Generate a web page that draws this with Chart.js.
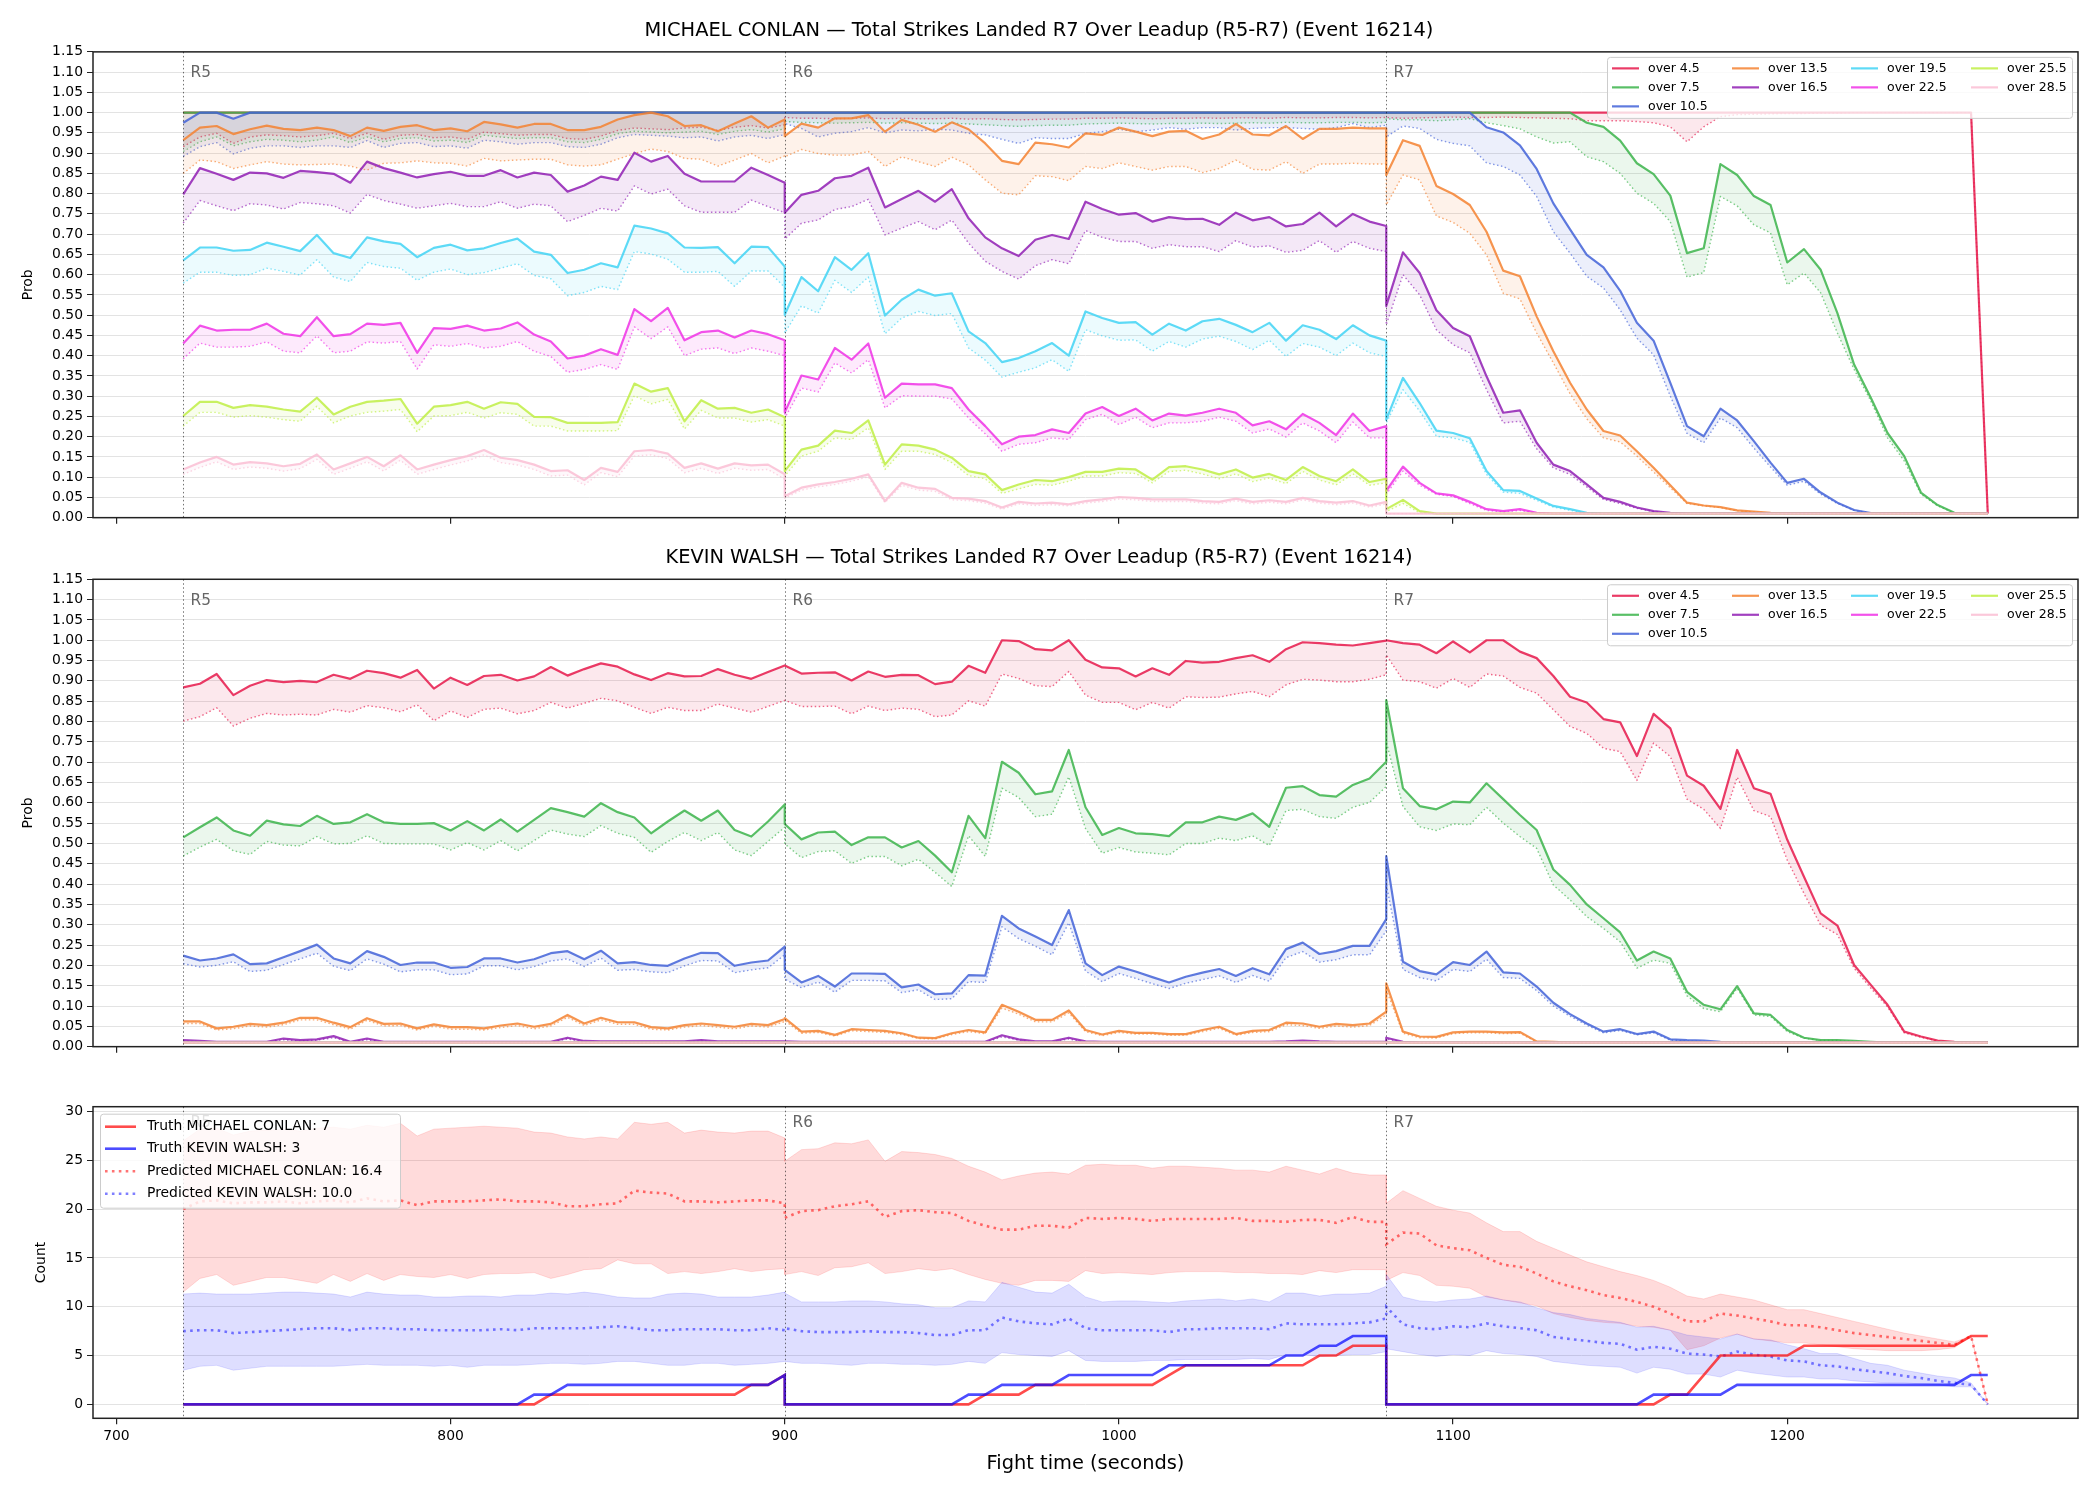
<!DOCTYPE html>
<html>
<head>
<meta charset="utf-8">
<script src="https://cdn.jsdelivr.net/npm/chart.js@4.4.1/dist/chart.umd.min.js"></script>
<style>
  html, body { margin: 0; padding: 0; background: #fff; }
  #wrap { position: relative; width: 2100px; height: 1500px; }
  #wrap canvas { position: absolute; left: 0; }
</style>
</head>
<body>
<div id="wrap">
  <canvas id="conlanChart" width="2100" height="530" style="top:0px;width:2100px;height:530px"></canvas>
  <canvas id="walshChart" width="2100" height="529" style="top:530px;width:2100px;height:529px"></canvas>
  <canvas id="countChart" width="2100" height="420" style="top:1080px;width:2100px;height:420px"></canvas>
</div>
<script>
// fight time: one sample every 5 s, 37 samples per round (R5, R6, R7)
const roundStarts = [720, 900, 1080];
const roundLabels = ['R5', 'R6', 'R7'];
const secondsPerStep = 5;
const stepsPerRound = 37;
const xTicks = [700, 800, 900, 1000, 1100, 1200];
const countTicks = [0, 5, 10, 15, 20, 25, 30];

const thresholds = ['over 4.5', 'over 7.5', 'over 10.5', 'over 13.5', 'over 16.5', 'over 19.5', 'over 22.5', 'over 25.5', 'over 28.5'];
const thresholdColors = ['#e6194b', '#3cb44b', '#4363d8', '#f58231', '#911eb4', '#42d4f4', '#f032e6', '#bfef45', '#fabed4'];

// ---- MICHAEL CONLAN probabilities (percent), solid = current, Lo = dotted lower line
const conlanO45 = [
  100,100,100,100,100,100,100,100,100,100, 100,100,100,100,100,100,100,100,100,100, 100,100,100,100,100,100,100,100,100,100, 100,100,100,100,100,100,100,
  100,100,100,100,100,100,100,100,100,100, 100,100,100,100,100,100,100,100,100,100, 100,100,100,100,100,100,100,100,100,100, 100,100,100,100,100,100,100,
  100,100,100,100,100,100,100,100,100,100, 100,100,100,100,100,100,100,100,100,100, 100,100,100,100,100,100,100,100,100,100, 100,100,100,100,100,100,1
];
const conlanO45Lo = [
  91.6,94.0,94.9,92.4,94.0,94.5,94.3,94.0,94.3,94.9, 93.6,94.9,93.4,94.4,94.6,93.8,94.0,93.4,95.2,94.8, 94.4,94.6,94.6,93.6,93.4,94.2,95.6,96.2,96.0,95.8, 96.2,96.4,95.6,96.4,96.8,96.2,97.0,
  98.8,98.6,98.6,98.5,98.6,98.7,98.5,98.6,98.5,98.5, 98.6,98.4,98.5,98.3,98.2,98.3,98.4,98.4,98.6,98.6, 98.7,98.6,98.5,98.6,98.6,98.7,98.6,98.7,98.7,98.6, 98.8,98.7,98.7,98.8,98.8,98.7,98.8,
  98.8,98.6,98.7,98.8,98.9,98.8,98.8,98.9,98.8,98.7, 98.6,98.5,98.0,98.0,98.0,97.8,97.5,96.5,92.8,96.5, 99.0,99.5,99.6,99.7,99.8,99.8,99.9,99.9,100,100, 100,100,100,100,100,100,1
];
const conlanO75 = [
  100,100,100,100,100,100,100,100,100,100, 100,100,100,100,100,100,100,100,100,100, 100,100,100,100,100,100,100,100,100,100, 100,100,100,100,100,100,100,
  100,100,100,100,100,100,100,100,100,100, 100,100,100,100,100,100,100,100,100,100, 100,100,100,100,100,100,100,100,100,100, 100,100,100,100,100,100,100,
  100,100,100,100,100,100,100,100,100,100, 100,100,97.5,96.5,93.1,87.5,84.8,79.5,65.3,66.5, 87.3,84.6,79.4,77.2,63.0,66.3,61.2,50.5,37.8,29.6, 20.9,15.2,6.2,3.1,1.2,1,1
];
const conlanO75Lo = [
  90.4,92.8,94.0,91.8,92.8,93.4,93.2,92.8,93.2,94.0, 92.6,94.0,92.8,93.6,93.8,93.0,93.2,92.6,94.4,94.0, 93.6,93.8,93.8,92.8,92.6,93.4,94.8,95.4,95.2,95.0, 95.2,95.4,94.6,95.4,95.8,95.2,96.0,
  97.8,97.6,97.5,97.4,97.5,97.6,97.4,97.5,97.4,97.3, 97.4,97.2,97.0,96.8,96.6,96.8,96.9,96.9,97.2,97.3, 97.4,97.3,97.2,97.3,97.3,97.4,97.3,97.4,97.5,97.4, 97.6,97.5,97.5,97.6,97.6,97.5,97.6,
  98.5,98.2,98.2,98.0,98.2,98.5,97.5,96.8,96.0,94.0, 92.5,92.8,89.1,87.9,85.0,80.1,77.6,73.1,59.4,60.5, 79.3,77.0,72.3,70.3,57.5,60.4,55.5,45.6,36.6,28.8, 19.7,14.0,5.8,2.9,1.2,1,1
];
const conlanO105 = [
  97.5,100,100,98.5,100,100,100,100,100,100, 100,100,100,100,100,100,100,100,100,100, 100,100,100,100,100,100,100,100,100,100, 100,100,100,100,100,100,100,
  100,100,100,100,100,100,100,100,100,100, 100,100,100,100,100,100,100,100,100,100, 100,100,100,100,100,100,100,100,100,100, 100,100,100,100,100,100,100,
  100,100,100,100,100,100,96.4,95.1,91.9,86.1, 77.6,71.2,64.9,61.8,56.0,48.1,43.7,33.3,22.6,20.1, 26.9,24.0,18.9,13.6,8.6,9.6,6.2,3.7,1.9,1.1, 1,1,1,1,1,1,1
];
const conlanO105Lo = [
  89.2,91.6,92.6,89.8,91.2,91.8,91.8,91.4,91.8,91.8, 91.4,93.1,91.4,92.4,92.6,91.6,91.8,91.2,93.2,92.8, 92.2,92.6,92.6,91.6,91.4,92.2,93.8,94.6,94.4,94.2, 93.8,94.0,93.0,94.0,94.4,93.6,94.6,
  97.3,96.1,94.0,94.9,95.3,96.3,95.0,95.7,95.5,95.9, 95.7,94.9,94.5,93.4,92.4,93.8,93.6,93.6,94.9,95.3, 95.9,95.3,95.7,96.3,95.9,96.3,96.3,95.7,96.1,96.3, 96.3,96.1,95.9,96.3,97.3,96.3,96.9,
  94.0,96.7,96.1,93.4,92.4,91.8,87.6,86.7,84.6,79.3, 70.6,65.3,59.6,56.7,51.3,44.3,40.2,30.0,20.8,18.5, 24.6,22.2,17.2,12.5,8.0,9.0,5.8,3.5,1.8,1.1, 1,1,1,1,1,1,1
];
const conlanO135 = [
  93.2,96.3,96.7,94.7,95.9,96.8,96.0,95.7,96.3,95.7, 94.2,96.3,95.5,96.5,96.9,95.7,96.1,95.4,97.7,97.1, 96.3,97.2,97.2,95.7,95.7,96.5,98.3,99.4,100,99.1, 96.7,96.9,95.4,97.3,99.1,96.3,98.3,
  94.2,97.3,96.3,98.6,98.6,99.4,95.3,98.2,97.0,95.3, 97.6,95.9,92.4,88.1,87.3,92.6,92.2,91.4,94.9,94.5, 96.3,95.3,94.2,95.3,95.5,93.5,94.6,97.2,94.6,94.4, 96.7,93.5,96.0,96.0,96.3,96.1,96.1,
  84.6,93.2,91.8,81.9,79.9,77.2,70.6,61.0,59.6,49.7, 41.1,33.3,26.7,21.4,20.3,16.4,12.3,8.0,3.7,3.0, 2.6,1.8,1.5,1.2,1,1,1,1,1,1, 1,1,1,1,1,1,1
];
const conlanO135Lo = [
  85.0,88.3,87.9,86.2,87.1,87.9,87.3,87.1,87.2,87.3, 86.8,85.8,87.5,87.6,88.1,87.6,87.5,86.8,88.7,88.1, 88.3,88.5,88.5,87.1,86.8,87.1,88.5,89.9,91.0,90.4, 88.7,88.5,86.8,88.3,89.9,87.6,89.3,
  89.1,90.9,89.9,89.5,89.5,90.4,86.7,89.1,87.9,86.7, 89.0,87.1,83.4,80.1,79.7,84.4,84.2,83.2,86.7,86.2, 87.6,86.7,85.8,86.7,86.7,85.2,86.2,88.3,86.0,85.8, 87.9,85.0,87.3,87.3,87.5,87.3,87.3,
  77.2,84.6,83.4,74.5,72.9,70.2,64.9,55.4,54.0,45.6, 38.2,30.6,24.4,19.7,18.7,15.2,11.3,7.4,3.5,2.9, 2.5,1.7,1.4,1.1,1,1,1,1,1,1, 1,1,1,1,1,1,1
];
const conlanO165 = [
  79.8,86.3,84.9,83.4,85.2,85.0,83.9,85.6,85.3,84.9, 82.7,87.9,86.3,85.2,84.0,84.8,85.4,84.4,84.4,85.8, 84.0,85.2,84.6,80.5,82.0,84.2,83.4,90.1,87.9,89.3, 84.9,83.0,83.0,83.0,86.4,84.6,82.7,
  75.3,79.7,80.7,83.8,84.4,86.4,76.6,78.7,80.7,78.0, 81.1,73.9,69.2,66.5,64.6,68.6,69.8,68.8,78.0,76.2, 74.8,75.2,73.1,74.2,73.7,73.8,72.3,75.3,73.4,74.2, 71.9,72.5,75.3,71.9,75.0,73.1,72.0,
  52.3,65.5,60.4,51.2,46.8,44.8,34.9,25.9,26.5,18.5, 13.1,11.5,8.2,4.9,3.9,2.5,1.6,1.2,1,1, 1,1,1,1,1,1,1,1,1,1, 1,1,1,1,1,1,1
];
const conlanO165Lo = [
  72.7,78.3,77.0,75.8,77.5,77.2,76.2,77.8,77.5,77.0, 75.2,79.8,78.3,77.4,76.4,77.0,77.6,76.8,76.8,78.0, 76.4,77.4,77.0,73.1,74.6,76.4,75.7,81.9,79.9,81.1, 77.0,75.4,75.4,75.4,78.4,76.8,75.3,
  68.8,72.7,73.5,76.1,76.8,78.6,69.8,71.5,73.1,71.1, 73.5,67.8,63.3,60.8,58.9,62.2,63.7,62.7,70.9,69.2, 68.2,68.2,66.5,67.4,66.9,66.9,65.7,68.4,66.8,67.1, 65.5,66.0,68.4,65.5,68.2,66.5,65.7,
  47.6,60.0,55.0,46.4,42.7,40.7,31.6,23.4,23.8,17.0, 12.3,10.7,7.6,4.5,3.5,2.3,1.5,1.1,1,1, 1,1,1,1,1,1,1,1,1,1, 1,1,1,1,1,1,1
];
const conlanO195 = [
  63.5,66.7,66.7,65.9,66.1,67.9,66.9,65.8,69.8,65.3, 64.1,69.2,68.2,67.6,64.3,66.6,67.4,66.0,66.5,67.8, 68.9,65.7,64.9,60.4,61.2,62.8,61.8,72.1,71.4,70.2, 66.7,66.6,66.8,62.8,66.9,66.8,62.0,
  50.1,59.4,55.9,64.3,61.2,65.3,49.9,53.8,56.3,54.8, 55.4,46.0,43.1,38.4,39.4,41.1,43.1,40.0,50.9,49.3, 48.1,48.3,45.2,47.9,46.2,48.5,49.1,47.6,45.8,48.1, 43.7,47.5,46.4,44.1,47.5,45.0,43.7,
  24.2,34.5,28.3,21.5,20.9,19.6,11.5,6.8,6.6,4.7, 2.9,2.1,1.2,1,1,1,1,1,1,1, 1,1,1,1,1,1,1,1,1,1, 1,1,1,1,1,1,1
];
const conlanO195Lo = [
  57.9,60.6,60.6,59.8,60.0,61.6,60.8,59.9,63.7,59.4, 58.3,63.0,62.0,61.6,58.6,60.6,61.4,60.0,60.5,61.6, 62.7,59.8,59.0,54.8,55.6,57.1,56.3,65.7,65.1,63.8, 60.6,60.6,60.8,57.1,60.9,60.9,56.9,
  45.6,52.3,50.5,58.6,55.6,59.4,45.4,49.3,50.9,49.9, 50.4,41.9,38.9,34.7,35.9,37.0,39.0,36.1,46.4,44.9, 43.8,43.9,41.1,43.5,42.1,44.1,44.8,43.5,41.5,43.8, 39.8,43.0,42.1,40.0,43.1,40.7,39.8,
  23.4,31.6,26.3,20.1,19.7,18.6,10.7,6.3,6.0,4.3, 2.6,1.8,1.1,1,1,1,1,1,1,1, 1,1,1,1,1,1,1,1,1,1, 1,1,1,1,1,1,1
];
const conlanO225 = [
  43.0,47.4,46.2,46.4,46.4,47.9,45.4,44.8,49.5,44.8, 45.3,47.9,47.6,48.1,40.7,46.8,46.6,47.4,46.2,46.7, 48.2,45.2,43.5,39.3,40.0,41.6,40.2,51.5,48.5,51.8, 43.8,45.8,46.2,44.5,46.2,45.3,43.8,
  26.0,35.1,34.1,41.9,39.0,43.0,29.6,33.1,32.9,32.9, 32.0,26.7,22.6,18.1,20.0,20.4,21.8,20.9,25.7,27.3, 25.1,26.9,24.0,25.7,25.2,25.9,26.9,25.9,22.8,23.8, 21.8,25.6,23.4,20.4,25.7,21.4,22.6,
  6.6,12.6,8.6,6.0,5.5,3.9,2.1,1.6,2.1,1.2, 1,1,1,1,1,1,1,1,1,1, 1,1,1,1,1,1,1,1,1,1, 1,1,1,1,1,1,1
];
const conlanO225Lo = [
  39.2,43.1,42.1,42.1,42.3,43.4,41.1,40.7,44.9,40.7, 41.1,43.4,43.1,43.5,36.7,42.7,42.3,43.0,41.9,42.3, 43.5,41.1,39.8,35.9,36.6,37.8,36.6,47.1,44.2,47.1, 40.0,41.6,41.9,40.5,41.9,41.1,40.0,
  24.6,32.0,31.0,38.2,35.7,39.0,27.1,30.1,30.0,30.0, 29.3,24.6,20.7,16.4,18.1,18.5,19.7,19.3,24.2,25.5, 23.0,24.8,22.2,23.4,23.4,23.8,24.8,23.8,20.9,21.9, 19.9,23.4,21.4,18.5,23.6,19.7,19.7,
  5.8,11.5,8.0,5.8,5.2,3.5,1.8,1.4,1.8,1.1, 1,1,1,1,1,1,1,1,1,1, 1,1,1,1,1,1,1,1,1,1, 1,1,1,1,1,1,1
];
const conlanO255 = [
  25.1,28.6,28.6,27.1,27.8,27.4,26.7,26.2,29.6,25.5, 27.4,28.6,28.9,29.3,23.2,27.4,27.8,28.6,26.9,28.5, 28.1,24.9,24.8,23.4,23.4,23.4,23.6,33.1,31.1,32.0, 23.8,29.0,26.9,27.1,25.9,26.7,24.8,
  11.5,16.8,17.8,21.5,20.9,24.0,13.1,18.1,17.8,16.8, 14.8,11.5,10.7,6.8,8.2,9.3,9.0,10.0,11.3,11.3, 12.1,11.9,9.4,12.5,12.7,11.9,10.7,11.9,9.9,10.8, 9.3,12.5,10.3,9.0,11.9,8.8,9.6,
  2.1,4.4,1.6,1,1,1,1,1,1,1, 1,1,1,1,1,1,1,1,1,1, 1,1,1,1,1,1,1,1,1,1, 1,1,1,1,1,1,1
];
const conlanO255Lo = [
  22.6,26.0,26.0,24.8,25.2,24.8,24.2,23.8,27.5,23.4, 25.1,26.0,26.3,26.7,21.2,25.1,25.2,26.0,24.6,25.9, 25.5,22.6,22.6,21.4,21.4,21.4,21.5,30.1,28.1,29.2, 21.9,26.5,24.6,24.6,23.6,24.2,22.6,
  10.3,15.2,16.4,19.7,19.3,22.2,11.9,16.4,16.4,15.6, 13.6,10.4,9.6,6.0,7.1,8.2,8.0,9.0,10.3,10.3, 11.1,10.9,8.6,11.4,11.7,10.8,9.6,10.8,8.9,9.8, 8.4,11.4,9.3,8.1,10.8,8.0,8.6,
  1.5,3.5,1.2,1,1,1,1,1,1,1, 1,1,1,1,1,1,1,1,1,1, 1,1,1,1,1,1,1,1,1,1, 1,1,1,1,1,1,1
];
const conlanO285 = [
  11.9,13.6,15.0,13.1,13.7,13.4,12.7,13.3,15.6,11.9, 13.4,15.0,12.7,15.4,11.9,13.1,14.2,15.2,16.7,14.8, 14.2,13.1,11.5,11.7,9.3,12.3,11.3,16.4,16.7,15.8, 12.3,13.4,12.1,13.4,12.9,13.1,10.7,
  5.3,7.4,8.2,8.8,9.6,10.7,4.1,8.6,7.4,7.1, 4.9,4.7,4.1,2.5,3.9,3.5,3.7,3.3,4.1,4.5, 5.1,4.9,4.5,4.5,4.5,4.1,3.9,4.7,3.9,4.3, 3.9,4.9,4.1,3.7,4.1,3.0,3.9,
  1,1,1,1,1,1,1,1,1,1, 1,1,1,1,1,1,1,1,1,1, 1,1,1,1,1,1,1,1,1,1, 1,1,1,1,1,1,1
];
const conlanO285Lo = [
  10.7,12.4,13.8,11.9,12.5,12.2,11.5,12.1,14.4,10.7, 12.2,13.8,11.5,14.2,10.7,11.9,13.0,14.0,15.5,13.6, 13.0,11.9,10.3,10.5,8.1,11.1,10.1,15.2,15.5,14.6, 11.1,12.2,10.9,12.2,11.7,11.9,9.5,
  4.8,6.8,7.6,8.2,9.0,10.1,3.7,8.0,6.8,6.5, 4.4,4.2,3.6,2.1,3.4,3.0,3.2,2.9,3.6,4.0, 4.6,4.4,4.0,4.0,4.0,3.6,3.4,4.2,3.4,3.8, 3.4,4.4,3.6,3.2,3.6,2.6,3.4,
  1,1,1,1,1,1,1,1,1,1, 1,1,1,1,1,1,1,1,1,1, 1,1,1,1,1,1,1,1,1,1, 1,1,1,1,1,1,1
];

// ---- KEVIN WALSH probabilities (percent)
const walshO45 = [
  88.4,89.3,91.7,86.5,88.8,90.2,89.7,90.0,89.7,91.5, 90.5,92.5,91.9,90.8,92.7,88.1,90.8,89.0,91.2,91.5, 90.1,91.1,93.4,91.3,92.9,94.3,93.5,91.6,90.2,91.9, 91.1,91.2,92.9,91.5,90.5,92.2,93.8,
  93.8,91.8,92.0,92.1,90.1,92.3,91.0,91.5,91.4,89.2, 89.8,93.7,92.0,100,99.8,97.8,97.5,100,95.2,93.3, 93.1,91.1,93.1,91.5,94.9,94.5,94.7,95.6,96.3,94.7, 97.8,99.5,99.3,98.9,98.7,99.3,99.9,
  100,99.3,98.9,96.8,99.7,97.0,100,100,97.2,95.6, 91.2,86.1,84.7,80.6,79.8,71.5,81.9,78.3,66.7,64.2, 58.5,73.0,63.6,62.2,50.9,41.8,32.8,29.8,20.1,15.2, 10.3,3.7,2.5,1.5,1.2,1,1
];
const walshO45Lo = [
  80.1,81.2,83.4,78.9,80.8,82.0,81.6,81.8,81.6,83.0, 82.3,83.9,83.4,82.4,84.1,80.2,82.6,81.0,83.0,83.3, 81.9,82.7,84.7,83.3,84.5,85.7,85.1,83.5,82.0,83.5, 82.7,82.7,84.3,83.3,82.3,83.7,85.2,
  85.2,83.7,83.7,83.8,81.9,83.8,82.7,83.3,83.0,81.2, 81.6,85.1,83.8,91.7,90.6,88.8,88.6,92.3,86.5,84.7, 84.7,82.9,84.7,83.3,86.1,85.9,86.0,86.8,87.4,86.1, 89.0,90.4,90.2,89.8,89.8,90.4,91.5,
  96.4,90.2,89.8,88.2,90.6,88.4,91.7,91.2,88.4,87.0, 82.9,78.8,77.1,73.4,72.6,65.5,74.7,71.4,60.9,58.4, 53.7,66.3,58.1,56.6,45.9,37.7,29.9,27.6,19.3,14.4, 9.8,3.4,2.3,1.4,1.1,1,1
];
const walshO75 = [
  51.5,54.0,56.4,53.2,51.9,55.6,54.7,54.3,56.8,54.8, 55.2,57.2,55.2,54.8,54.8,55.0,53.2,55.5,53.2,55.9, 52.9,55.8,58.7,57.7,56.6,59.9,57.7,56.4,52.5,55.4, 58.1,55.6,58.1,53.3,51.7,55.4,59.6,
  54.8,51.0,52.7,52.9,49.6,51.5,51.5,49.0,50.6,47.0, 42.9,56.8,51.3,70.1,67.4,62.1,62.8,73.0,58.9,52.1, 53.8,52.5,52.3,51.8,55.2,55.2,56.6,55.8,57.4,54.1, 63.7,64.1,61.9,61.5,64.4,66.0,70.1,
  85.3,63.6,59.2,58.4,60.3,60.1,64.8,60.9,57.0,53.3, 43.6,39.8,35.0,31.6,28.1,21.2,23.4,21.7,13.5,10.3, 9.2,14.9,8.2,7.8,4.1,2.2,1.6,1.6,1.4,1.2, 1,1,1,1,1,1,1
];
const walshO75Lo = [
  46.9,49.1,51.0,48.2,47.3,50.5,49.6,49.4,51.7,49.9, 50.0,51.9,50.0,49.9,49.9,49.9,48.4,50.2,48.4,50.7, 48.2,50.7,53.3,52.3,51.7,54.4,52.5,51.5,47.8,50.5, 52.7,50.7,52.7,48.4,47.0,50.5,54.0,
  49.9,46.5,48.0,48.2,45.1,46.8,46.8,44.5,46.1,42.9, 39.4,51.9,46.8,63.6,61.3,56.6,57.2,66.4,53.7,47.6, 49.0,47.9,47.6,47.2,50.0,50.0,51.3,50.7,51.9,49.5, 58.1,58.4,56.6,56.2,58.9,60.1,64.0,
  75.0,59.1,54.1,53.2,54.8,54.6,58.9,55.0,51.7,48.8, 39.8,36.1,32.0,29.1,25.8,19.3,21.3,20.5,12.5,9.4, 8.6,14.4,7.8,7.4,3.7,2.1,1.5,1.5,1.3,1.1, 1,1,1,1,1,1,1
];
const walshO105 = [
  22.4,21.2,21.7,22.7,20.3,20.5,22.0,23.5,25.1,21.7, 20.5,23.5,22.1,20.1,20.7,20.7,19.4,19.6,21.7,21.7, 20.7,21.5,23.0,23.5,21.5,23.6,20.5,20.8,20.1,19.9, 21.7,23.1,23.0,19.9,20.7,21.2,24.6,
  18.9,15.8,17.4,14.8,18.0,18.0,17.9,14.6,15.3,12.9, 13.1,17.6,17.5,32.2,29.1,27.1,25.0,33.6,20.5,17.6, 19.7,18.5,17.1,15.8,17.2,18.2,19.1,17.4,19.3,17.8, 24.0,25.6,22.8,23.5,24.8,24.8,31.4,
  46.9,20.9,18.6,17.8,20.8,20.1,23.4,18.3,18.0,14.8, 10.8,8.0,5.7,3.7,4.3,3.1,3.7,1.8,1.6,1.5, 1.2,1,1,1,1,1,1,1,1,1, 1,1,1,1,1,1,1
];
const walshO105Lo = [
  20.4,19.6,20.0,20.9,18.5,18.8,20.2,21.6,23.0,19.8, 18.7,21.6,20.3,18.4,18.9,18.9,17.7,17.9,19.9,19.9, 18.9,19.7,21.1,21.6,19.7,21.8,18.8,19.0,18.4,18.2, 19.9,21.2,21.1,18.2,18.9,19.4,22.6,
  16.6,14.5,15.9,13.4,16.3,16.3,16.2,13.3,14.0,11.6, 11.8,16.0,15.8,29.5,26.6,24.7,22.6,30.5,18.6,16.0, 18.0,16.8,15.5,14.3,15.6,16.5,17.4,15.8,17.5,16.1, 21.9,23.4,20.8,21.4,22.6,22.6,28.5,
  40.0,19.0,17.0,16.2,19.0,18.5,21.5,17.0,16.8,13.8, 10.0,7.5,5.3,3.4,4.0,2.9,3.4,1.6,1.4,1.3, 1.1,1,1,1,1,1,1,1,1,1, 1,1,1,1,1,1,1
];
const walshO135 = [
  6.2,6.2,4.5,4.9,5.6,5.3,5.9,7.1,7.1,5.9, 4.8,7.0,5.6,5.7,4.5,5.5,4.8,4.8,4.5,5.2, 5.7,4.9,5.6,7.8,5.7,7.1,6.0,6.0,4.8,4.5, 5.3,5.7,5.3,4.9,5.6,5.3,6.8,
  7.0,3.7,3.9,2.9,4.3,4.1,3.9,3.3,2.2,2.1, 3.3,4.1,3.5,10.3,8.6,6.6,6.6,8.9,4.1,3.0, 3.9,3.4,3.4,3.1,3.1,4.1,4.9,3.1,3.9,4.1, 5.9,5.7,4.9,5.6,5.3,5.7,8.6,
  15.6,3.7,2.5,2.4,3.5,3.7,3.7,3.5,3.6,1.3, 1.2,1,1,1,1,1,1,1,1,1, 1,1,1,1,1,1,1,1,1,1, 1,1,1,1,1,1,1
];
const walshO135Lo = [
  5.7,5.7,4.1,4.4,5.1,4.8,5.4,6.6,6.6,5.4, 4.3,6.5,5.1,5.2,4.1,5.0,4.3,4.3,4.1,4.7, 5.2,4.4,5.1,7.2,5.2,6.6,5.5,5.5,4.3,4.1, 4.8,5.2,4.8,4.4,5.1,4.8,6.2,
  6.4,3.3,3.5,2.6,3.9,3.7,3.5,3.0,2.0,1.9, 3.0,3.7,3.2,9.5,8.0,6.1,6.1,8.3,3.7,2.7, 3.5,3.1,3.1,2.8,2.8,3.7,4.5,2.8,3.5,3.7, 5.4,5.2,4.5,5.1,4.8,5.2,7.8,
  14.0,3.3,2.2,2.1,3.2,3.4,3.4,3.2,3.3,1.2, 1.1,1,1,1,1,1,1,1,1,1, 1,1,1,1,1,1,1,1,1,1, 1,1,1,1,1,1,1
];
const walshO165 = [
  1.6,1.4,1.2,1.2,1.2,1.2,2.0,1.6,1.8,2.6, 1.2,2.0,1.2,1.2,1.2,1.2,1.2,1.2,1.2,1.2, 1.2,1.2,1.2,2.2,1.4,1.3,1.3,1.3,1.3,1.3, 1.3,1.6,1.3,1.3,1.3,1.3,1.3,
  1.3,1.2,1.2,1.2,1.2,1.2,1.2,1.2,1.2,1.2, 1.2,1.2,1.2,2.8,1.8,1.3,1.3,2.2,1.3,1.2, 1.2,1.2,1.2,1.2,1.2,1.2,1.2,1.2,1.2,1.2, 1.3,1.5,1.3,1.2,1.2,1.2,1.2,
  2.2,1.2,1,1,1,1,1,1,1,1, 1,1,1,1,1,1,1,1,1,1, 1,1,1,1,1,1,1,1,1,1, 1,1,1,1,1,1,1
];
const walshO165Lo = [
  1.4,1.2,1.1,1.1,1.1,1.1,1.7,1.4,1.6,2.2, 1.1,1.7,1.1,1.1,1.1,1.1,1.1,1.1,1.1,1.1, 1.1,1.1,1.1,1.9,1.2,1.1,1.1,1.1,1.1,1.1, 1.1,1.4,1.1,1.1,1.1,1.1,1.1,
  1.1,1.1,1.1,1.1,1.1,1.1,1.1,1.1,1.1,1.1, 1.1,1.1,1.1,2.4,1.6,1.1,1.1,1.9,1.1,1.1, 1.1,1.1,1.1,1.1,1.1,1.1,1.1,1.1,1.1,1.1, 1.1,1.3,1.1,1.1,1.1,1.1,1.1,
  1.9,1.1,1,1,1,1,1,1,1,1, 1,1,1,1,1,1,1,1,1,1, 1,1,1,1,1,1,1,1,1,1, 1,1,1,1,1,1,1
];
// over 19.5 .. over 28.5 sit on the 0.01 floor for the whole leadup
const walshFloor = [
  1,1,1,1,1,1,1,1,1,1, 1,1,1,1,1,1,1,1,1,1, 1,1,1,1,1,1,1,1,1,1, 1,1,1,1,1,1,1,
  1,1,1,1,1,1,1,1,1,1, 1,1,1,1,1,1,1,1,1,1, 1,1,1,1,1,1,1,1,1,1, 1,1,1,1,1,1,1,
  1,1,1,1,1,1,1,1,1,1, 1,1,1,1,1,1,1,1,1,1, 1,1,1,1,1,1,1,1,1,1, 1,1,1,1,1,1,1
];

// ---- Counts panel
const conlanTruth = [
  0,0,0,0,0,0,0,0,0,0, 0,0,0,0,0,0,0,0,0,0, 0,0,1,1,1,1,1,1,1,1, 1,1,1,1,2,2,3,
  0,0,0,0,0,0,0,0,0,0, 0,0,1,1,1,2,2,2,2,2, 2,2,2,3,4,4,4,4,4,4, 4,4,5,5,6,6,6,
  0,0,0,0,0,0,0,0,0,0, 0,0,0,0,0,0,0,1,1,3, 5,5,5,5,5,6,6,6,6,6, 6,6,6,6,6,7,7
];
const walshTruth = [
  0,0,0,0,0,0,0,0,0,0, 0,0,0,0,0,0,0,0,0,0, 0,1,1,2,2,2,2,2,2,2, 2,2,2,2,2,2,3,
  0,0,0,0,0,0,0,0,0,0, 0,1,1,2,2,2,2,3,3,3, 3,3,3,4,4,4,4,4,4,4, 5,5,6,6,7,7,7,
  0,0,0,0,0,0,0,0,0,0, 0,0,0,0,0,0,1,1,1,1, 1,2,2,2,2,2,2,2,2,2, 2,2,2,2,2,3,3
];
const conlanPred = [
  20.0,20.8,20.9,20.6,20.7,20.7,20.8,20.6,20.8,20.9, 20.7,21.1,20.8,20.9,20.4,20.8,20.8,20.8,20.9,21.0, 20.8,20.8,20.7,20.3,20.3,20.5,20.6,21.9,21.7,21.6, 20.8,20.8,20.7,20.8,20.9,20.9,20.6,
  19.1,19.8,19.9,20.3,20.5,20.8,19.2,19.8,19.9,19.7, 19.6,18.8,18.3,17.9,17.9,18.3,18.3,18.1,19.1,19.0, 19.1,19.0,18.8,19.0,19.0,19.0,19.0,19.1,18.8,18.8, 18.7,18.9,18.9,18.6,19.2,18.7,18.7,
  16.4,17.6,17.5,16.3,16.0,15.8,15.0,14.3,14.1,13.4, 12.6,12.1,11.7,11.2,10.9,10.5,10.0,9.3,8.5,8.5, 9.3,9.1,8.8,8.5,8.1,8.1,7.9,7.6,7.3,7.1, 6.9,6.7,6.5,6.3,6.1,7.0,0
];
const conlanPredHi = [
  27.0,28.2,28.3,27.6,28.0,28.1,28.2,28.0,28.3,28.4, 28.2,28.6,28.4,28.8,27.5,28.2,28.3,28.4,28.5,28.4, 28.3,27.9,27.8,27.4,27.2,27.4,27.2,28.9,28.7,28.9, 27.8,28.1,27.9,27.8,28.0,28.0,27.3,
  24.9,26.1,26.2,26.8,26.7,27.1,24.9,25.9,25.8,25.6, 25.2,24.4,23.8,23.0,23.4,23.7,23.8,23.6,24.5,24.6, 24.5,24.5,24.2,24.4,24.4,24.3,24.2,24.0,24.0,23.8, 24.4,24.0,23.6,24.2,23.7,23.5,23.5,
  20.6,21.9,21.1,20.3,19.9,19.6,18.6,17.7,17.7,16.7, 16.0,15.3,14.6,14.1,13.6,13.2,12.7,12.0,11.1,10.8, 11.3,11.0,10.7,10.2,9.7,9.7,9.3,8.9,8.5,8.1, 7.7,7.3,7.0,6.7,6.4,7.0,0
];
const conlanPredLo = [
  11.5,12.9,13.3,12.2,12.6,13.0,13.0,12.7,12.4,13.3, 12.6,13.4,12.7,13.3,13.1,13.0,13.3,12.9,13.3,13.4, 13.4,13.5,12.9,13.3,13.8,13.9,14.8,14.4,14.4,13.4, 13.6,13.4,13.6,13.9,13.6,13.8,13.9,
  13.3,13.6,13.2,14.0,14.1,14.5,13.4,13.6,13.9,13.7, 13.9,13.3,12.8,12.4,12.2,12.7,12.7,12.6,13.7,13.4, 13.5,13.4,13.3,13.5,13.6,13.6,13.6,13.5,13.5,13.4, 13.4,13.3,13.7,13.5,13.8,13.8,13.8,
  12.7,13.5,13.2,12.2,12.1,11.9,11.0,10.7,10.4,10.1, 9.3,8.9,8.6,8.4,8.3,8.0,7.9,7.6,5.6,6.0, 6.8,7.2,6.7,6.5,6.3,6.3,6.1,5.9,5.7,5.6, 5.5,5.5,5.5,5.6,5.8,7.0,0
];
const walshPred = [
  7.5,7.6,7.6,7.3,7.4,7.5,7.6,7.7,7.8,7.8, 7.6,7.8,7.8,7.7,7.7,7.6,7.6,7.6,7.6,7.7, 7.6,7.8,7.8,7.8,7.8,7.9,8.0,7.8,7.6,7.6, 7.7,7.7,7.7,7.6,7.6,7.8,7.6,
  7.8,7.5,7.4,7.4,7.4,7.5,7.4,7.4,7.3,7.1, 7.1,7.6,7.6,8.9,8.5,8.3,8.2,8.8,7.8,7.6, 7.6,7.6,7.6,7.4,7.7,7.7,7.8,7.8,7.8,7.7, 8.3,8.2,8.2,8.2,8.3,8.4,8.8,
  10.0,8.2,7.8,7.7,8.0,7.9,8.3,8.0,7.8,7.6, 6.9,6.7,6.5,6.3,6.2,5.6,5.9,5.7,5.2,5.1, 4.9,5.4,5.1,4.9,4.5,4.4,4.0,3.9,3.6,3.4, 3.2,2.9,2.7,2.4,2.2,2.0,0
];
const walshPredHi = [
  11.3,11.4,11.3,11.3,11.3,11.4,11.5,11.5,11.4,11.3, 11.0,11.5,11.3,11.2,11.2,11.0,11.0,11.1,11.1,11.0, 11.2,11.2,11.4,11.3,11.5,11.3,11.0,10.9,10.9,11.3, 11.4,11.3,11.0,11.0,11.0,11.2,11.5,
  11.4,10.5,10.5,10.5,10.6,10.6,10.5,10.3,10.2,9.9, 9.9,10.6,10.5,12.5,12.0,11.5,11.4,12.3,11.0,10.5, 10.6,10.6,10.5,10.4,10.6,10.7,10.8,10.6,10.8,10.5, 11.4,11.4,11.1,11.3,11.3,11.4,12.1,
  13.3,11.0,10.6,10.5,10.7,10.8,11.1,10.7,10.5,9.9, 9.4,9.2,8.8,8.6,8.4,7.9,8.0,7.6,7.1,6.9, 6.7,7.2,6.7,6.6,6.1,5.7,5.2,5.2,4.7,4.2, 4.0,3.5,3.2,2.9,2.7,2.2,0
];
const walshPredLo = [
  3.5,3.9,4.0,3.5,3.7,3.9,3.9,3.9,3.9,3.9, 4.0,4.1,4.0,4.0,4.0,3.9,4.0,3.8,4.0,4.0, 4.0,4.1,4.2,4.2,4.1,4.2,4.4,4.4,4.2,4.0, 4.0,4.2,4.2,4.0,4.1,4.2,4.4,
  4.4,4.2,4.2,4.1,4.0,4.2,4.2,4.1,4.1,4.0, 4.1,4.4,4.2,5.3,5.1,5.0,4.9,5.5,4.5,4.4, 4.4,4.4,4.5,4.5,4.6,4.6,4.6,4.6,4.7,4.6, 5.1,5.1,4.9,5.0,5.1,5.1,5.4,
  5.7,5.4,5.1,4.9,5.1,5.0,5.5,5.2,5.1,4.9, 4.4,4.2,4.0,3.9,3.8,3.2,3.8,3.6,3.1,3.1, 2.8,3.5,3.2,3.0,2.8,2.8,2.6,2.6,2.4,2.3, 2.2,2.2,2.1,2.0,1.8,1.8,0
];
const countLegendLabels = ['Truth MICHAEL CONLAN: 7', 'Truth KEVIN WALSH: 3', 'Predicted MICHAEL CONLAN: 16.4', 'Predicted KEVIN WALSH: 10.0'];

const conlanSolid = [conlanO45, conlanO75, conlanO105, conlanO135, conlanO165, conlanO195, conlanO225, conlanO255, conlanO285];
const conlanLow = [conlanO45Lo, conlanO75Lo, conlanO105Lo, conlanO135Lo, conlanO165Lo, conlanO195Lo, conlanO225Lo, conlanO255Lo, conlanO285Lo];
const walshSolid = [walshO45, walshO75, walshO105, walshO135, walshO165, walshFloor, walshFloor, walshFloor, walshFloor];
const walshLow = [walshO45Lo, walshO75Lo, walshO105Lo, walshO135Lo, walshO165Lo, walshFloor, walshFloor, walshFloor, walshFloor];

// x values (seconds) for every sample; round boundaries appear twice
const times = [];
roundStarts.forEach(s => { for (let i = 0; i < stepsPerRound; i++) times.push(s + i * secondsPerStep); });
const probTicks = [];
for (let i = 0; i <= 23; i++) probTicks.push(+(i * 0.05).toFixed(2));

function toPoints(arr, scale) {
  return times.map((t, i) => ({ x: t, y: arr[i] * scale }));
}
function rgba(hex, a) {
  const n = parseInt(hex.slice(1), 16);
  return `rgba(${(n >> 16) & 255},${(n >> 8) & 255},${n & 255},${a})`;
}

Chart.defaults.font.family = "'DejaVu Sans', sans-serif";
Chart.defaults.font.size = 13.9;
Chart.defaults.color = '#000';
Chart.defaults.elements.point.radius = 0;

const FONT = '"DejaVu Sans", sans-serif';

// black frame round the plot area
const framePlugin = {
  id: 'frame',
  afterDatasetsDraw(chart) {
    const { ctx, chartArea: a } = chart;
    ctx.save();
    ctx.strokeStyle = '#222';
    ctx.lineWidth = 1.5;
    ctx.strokeRect(a.left, a.top, a.right - a.left, a.bottom - a.top);
    ctx.restore();
  }
};

// dotted round start lines + R5/R6/R7 labels
const roundPlugin = {
  id: 'roundMarks',
  afterDatasetsDraw(chart) {
    const { ctx, chartArea: a, scales: { x, y } } = chart;
    ctx.save();
    roundStarts.forEach((s, i) => {
      const px = Math.round(x.getPixelForValue(s)) + 0.5;
      ctx.strokeStyle = 'rgba(0,0,0,0.55)';
      ctx.lineWidth = 1;
      ctx.setLineDash([1.5, 2.5]);
      ctx.beginPath();
      ctx.moveTo(px, a.top);
      ctx.lineTo(px, a.bottom);
      ctx.stroke();
      ctx.setLineDash([]);
      ctx.fillStyle = '#666';
      ctx.font = '15.3px ' + FONT;
      ctx.textBaseline = 'top';
      ctx.textAlign = 'left';
      ctx.fillText(roundLabels[i], px + 7, y.getPixelForValue(y.max * 0.97));
    });
    ctx.restore();
  }
};

function legendBox(ctx, x, y, w, h) {
  ctx.fillStyle = 'rgba(255,255,255,0.8)';
  ctx.strokeStyle = '#cccccc';
  ctx.lineWidth = 1;
  ctx.beginPath();
  ctx.roundRect(x + 0.5, y + 0.5, w, h, 3);
  ctx.fill();
  ctx.stroke();
}

// 4-column legend, filled column by column like matplotlib
const thresholdLegend = {
  id: 'thresholdLegend',
  afterDraw(chart) {
    const { ctx, chartArea: a } = chart;
    const bx = a.right - 471, by = a.top + 5;
    ctx.save();
    legendBox(ctx, bx, by, 465, 61);
    const colX = [5, 125, 244, 364];
    const rowY = [11.5, 30.5, 49.5];
    const columns = [[0, 1, 2], [3, 4], [5, 6], [7, 8]];
    ctx.font = '12.5px ' + FONT;
    ctx.textBaseline = 'middle';
    columns.forEach((col, ci) => col.forEach((k, ri) => {
      const x0 = bx + colX[ci], yy = by + rowY[ri];
      ctx.strokeStyle = rgba(thresholdColors[k], 0.85);
      ctx.lineWidth = 2.2;
      ctx.beginPath();
      ctx.moveTo(x0, yy);
      ctx.lineTo(x0 + 27, yy);
      ctx.stroke();
      ctx.fillStyle = '#000';
      ctx.fillText(thresholds[k], x0 + 36, yy);
    }));
    ctx.restore();
  }
};

const countLegend = {
  id: 'countLegend',
  afterDraw(chart) {
    const { ctx, chartArea: a } = chart;
    const bx = a.left + 7, by = a.top + 7;
    const styles = [
      { c: 'rgba(255,0,0,0.7)', dash: [] },
      { c: 'rgba(0,0,255,0.7)', dash: [] },
      { c: 'rgba(255,0,0,0.55)', dash: [2.6, 4.3] },
      { c: 'rgba(0,0,255,0.5)', dash: [2.6, 4.3] }
    ];
    ctx.save();
    legendBox(ctx, bx, by, 300, 94);
    ctx.font = '13.9px ' + FONT;
    ctx.textBaseline = 'middle';
    const rowY = [13, 35, 57.5, 80];
    countLegendLabels.forEach((lab, i) => {
      const yy = by + rowY[i];
      ctx.strokeStyle = styles[i].c;
      ctx.lineWidth = 2.6;
      ctx.setLineDash(styles[i].dash);
      ctx.beginPath();
      ctx.moveTo(bx + 5, yy);
      ctx.lineTo(bx + 36, yy);
      ctx.stroke();
      ctx.setLineDash([]);
      ctx.fillStyle = '#000';
      ctx.fillText(lab, bx + 47, yy);
    });
    ctx.restore();
  }
};

function xScale(showLabels) {
  return {
    type: 'linear',
    min: 693,
    max: 1287,
    afterBuildTicks: s => { s.ticks = xTicks.map(v => ({ value: v })); },
    ticks: { display: showLabels, font: { size: 13.9 }, color: '#000', padding: 4, maxRotation: 0, callback: v => String(v) },
    grid: { drawOnChartArea: false, drawTicks: true, tickLength: 6, tickColor: '#222', lineWidth: 1.2 },
    border: { display: false },
    title: showLabels ? { display: true, text: 'Fight time (seconds)', font: { size: 19.4 }, color: '#000', padding: { top: 0, bottom: 2.7 } } : { display: false },
    afterFit: s => { s.height = showLabels ? 60 : 7; }
  };
}

function makeProbChart(id, title, solids, lows, titlePad) {
  const datasets = [];
  thresholds.forEach((lab, k) => {
    const c = thresholdColors[k];
    datasets.push({
      label: lab + ' (lower)',
      data: toPoints(lows[k], 0.01),
      borderColor: rgba(c, 0.65),
      borderWidth: 1.4,
      borderDash: [1.5, 2.5],
      borderJoinStyle: 'round',
      fill: false,
      order: (8 - k) * 2 + 1
    });
    datasets.push({
      label: lab,
      data: toPoints(solids[k], 0.01),
      borderColor: rgba(c, 0.85),
      borderWidth: 2.2,
      borderJoinStyle: 'round',
      fill: { target: '-1', above: rgba(c, 0.1), below: rgba(c, 0.1) },
      order: (8 - k) * 2
    });
  });
  return new Chart(document.getElementById(id), {
    type: 'line',
    data: { datasets },
    options: {
      responsive: false,
      animation: false,
      parsing: false,
      layout: { padding: { left: 0, right: 22, top: 0, bottom: 5 } },
      plugins: {
        legend: { display: false },
        tooltip: { enabled: false },
        title: { display: true, text: title, color: '#000', font: { size: 19.4, weight: 'normal' }, padding: titlePad }
      },
      scales: {
        x: xScale(false),
        y: {
          min: 0,
          max: 1.15,
          afterBuildTicks: s => { s.ticks = probTicks.map(v => ({ value: v })); },
          ticks: { color: '#000', padding: 4, callback: v => v.toFixed(2) },
          grid: { color: '#e3e3e3', lineWidth: 1, tickColor: '#222', tickLength: 6 },
          border: { display: false },
          title: { display: true, text: 'Prob', color: '#000', font: { size: 13.9 }, padding: { top: 20, bottom: 0 } },
          afterFit: s => { s.width = 93; }
        }
      }
    },
    plugins: [framePlugin, roundPlugin, thresholdLegend]
  });
}

makeProbChart('conlanChart', 'MICHAEL CONLAN \u2014 Total Strikes Landed R7 Over Leadup (R5-R7) (Event 16214)',
  conlanSolid, conlanLow, { top: 19.2, bottom: 9.4 });
makeProbChart('walshChart', 'KEVIN WALSH \u2014 Total Strikes Landed R7 Over Leadup (R5-R7) (Event 16214)',
  walshSolid, walshLow, { top: 16.75, bottom: 9.25 });

// counts panel
new Chart(document.getElementById('countChart'), {
  type: 'line',
  data: {
    datasets: [
      { label: 'conlan band lo', data: toPoints(conlanPredLo, 1), borderColor: 'rgba(255,0,0,0.13)', borderWidth: 1, fill: false, order: 8 },
      { label: 'conlan band hi', data: toPoints(conlanPredHi, 1), borderColor: 'rgba(255,0,0,0.13)', borderWidth: 1, fill: { target: '-1', above: 'rgba(255,0,0,0.14)', below: 'rgba(255,0,0,0.14)' }, order: 7 },
      { label: 'walsh band lo', data: toPoints(walshPredLo, 1), borderColor: 'rgba(0,0,255,0.12)', borderWidth: 1, fill: false, order: 6 },
      { label: 'walsh band hi', data: toPoints(walshPredHi, 1), borderColor: 'rgba(0,0,255,0.12)', borderWidth: 1, fill: { target: '-1', above: 'rgba(0,0,255,0.13)', below: 'rgba(0,0,255,0.13)' }, order: 5 },
      { label: countLegendLabels[2], data: toPoints(conlanPred, 1), borderColor: 'rgba(255,0,0,0.55)', borderWidth: 2.6, borderDash: [2.6, 4.3], fill: false, order: 3 },
      { label: countLegendLabels[3], data: toPoints(walshPred, 1), borderColor: 'rgba(0,0,255,0.5)', borderWidth: 2.6, borderDash: [2.6, 4.3], fill: false, order: 2 },
      { label: countLegendLabels[0], data: toPoints(conlanTruth, 1), borderColor: 'rgba(255,0,0,0.7)', borderWidth: 2.6, fill: false, order: 1 },
      { label: countLegendLabels[1], data: toPoints(walshTruth, 1), borderColor: 'rgba(0,0,255,0.7)', borderWidth: 2.6, fill: false, order: 0 }
    ]
  },
  options: {
    responsive: false,
    animation: false,
    parsing: false,
    layout: { padding: { left: 0, right: 22, top: 26.7, bottom: 21.7 } },
    plugins: { legend: { display: false }, tooltip: { enabled: false } },
    scales: {
      x: xScale(true),
      y: {
        min: -1.43,
        max: 30.5,
        afterBuildTicks: s => { s.ticks = countTicks.map(v => ({ value: v })); },
        ticks: { color: '#000', padding: 4, callback: v => String(v) },
        grid: { color: '#e3e3e3', lineWidth: 1, tickColor: '#222', tickLength: 6 },
        border: { display: false },
        title: { display: true, text: 'Count', color: '#000', font: { size: 13.9 }, padding: { top: 33, bottom: 0 } },
        afterFit: s => { s.width = 93; }
      }
    }
  },
  plugins: [framePlugin, roundPlugin, countLegend]
});
</script>
</body>
</html>
